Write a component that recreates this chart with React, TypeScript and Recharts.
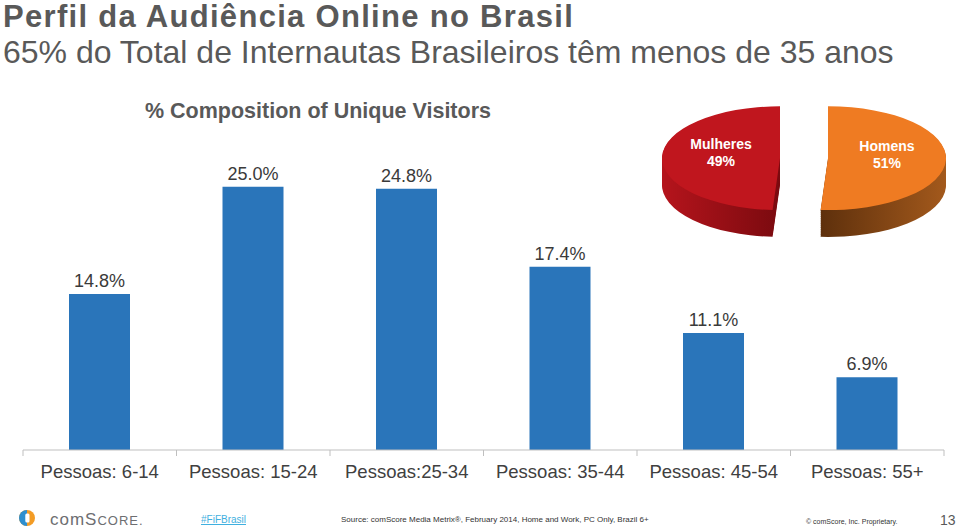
import { Bar, BarChart, Cell, LabelList, Pie, PieChart, XAxis, YAxis } from "recharts";

const categories = ["Pessoas: 6-14", "Pessoas: 15-24", "Pessoas:25-34", "Pessoas: 35-44", "Pessoas: 45-54", "Pessoas: 55+"];
const composition = [14.8, 25.0, 24.8, 17.4, 11.1, 6.9];
const genderNames = ["Homens", "Mulheres"];
const genderShare = [51, 49];

const ageData = categories.map((name, i) => ({ name, value: composition[i] }));
const genderData = genderNames.map((name, i) => ({ name, value: genderShare[i] }));

const FONT = "'Liberation Sans', Arial, sans-serif";
const GREY = "#595959";
const W = 960;
const H = 531;
const BAR_MARGIN = { top: 134, right: 16, left: 23, bottom: 10 };
const BAND = (W - BAR_MARGIN.left - BAR_MARGIN.right) / categories.length;

// pie is drawn round, then squashed vertically to fake the 3d tilt
const SQUASH = 0.44;
const PIE_BOX = { left: 644, top: 101, size: 320 };
const PIE_R = 118;
const PIE_CY = 130;
const sliceCx = [184, 136]; // homens pushed right, mulheres pushed left
const topFill = ["#ef7b22", "#c0161e"];
const sideFill = ["url(#sideHomens)", "url(#sideMulheres)"];
const sideDepths = [61, 56, 51, 46, 41, 36, 31, 26, 21, 16, 11, 6, 2];
const RAD = Math.PI / 180;

function AgeTick(props: any) {
  const { x, y, payload, index } = props;
  const half = BAND / 2;
  return (
    <g>
      <line x1={x - half} x2={x - half} y1={y} y2={y + 6} stroke="#bfbfbf" />
      {index === categories.length - 1 && <line x1={x + half} x2={x + half} y1={y} y2={y + 6} stroke="#bfbfbf" />}
      <text x={x} y={y + 28} textAnchor="middle" fontSize={18.5} fill="#404040" fontFamily={FONT}>
        {payload.value}
      </text>
    </g>
  );
}

function sliceLabel(slice: number) {
  return (p: any) => {
    if (p.index !== slice) return null;
    const x = p.cx + p.outerRadius * 0.5 * Math.cos(-p.midAngle * RAD);
    const y = p.cy + p.outerRadius * 0.5 * Math.sin(-p.midAngle * RAD);
    const d = genderData[slice];
    return (
      <g transform={`translate(${x} ${y}) scale(1 ${1 / SQUASH})`} fontFamily={FONT} fontWeight="bold" fontSize={14} fill="#fff">
        <text textAnchor="middle" y={-8}>{d.name}</text>
        <text textAnchor="middle" y={8.5}>{`${d.value}%`}</text>
      </g>
    );
  };
}

function slicePie(slice: number, cy: number, fill: string, key: string, withLabel: boolean) {
  return (
    <Pie
      key={key}
      data={genderData}
      dataKey="value"
      nameKey="name"
      cx={sliceCx[slice]}
      cy={cy}
      outerRadius={PIE_R}
      startAngle={90}
      endAngle={-270}
      stroke="none"
      isAnimationActive={false}
      label={withLabel ? sliceLabel(slice) : false}
      labelLine={false}
    >
      {genderData.map((g, j) => (
        <Cell key={g.name} fill={j === slice ? fill : "transparent"} />
      ))}
    </Pie>
  );
}

function GenderPie() {
  return (
    <div
      style={{
        position: "absolute",
        left: PIE_BOX.left,
        top: PIE_BOX.top,
        width: PIE_BOX.size,
        height: PIE_BOX.size,
        transform: `scaleY(${SQUASH})`,
        transformOrigin: "0 0",
      }}
    >
      <PieChart width={PIE_BOX.size} height={PIE_BOX.size} margin={{ top: 0, right: 0, bottom: 0, left: 0 }}>
        <defs>
          <linearGradient id="sideMulheres" x1="0" y1="0" x2="1" y2="0">
            <stop offset="0" stopColor="#b5141c" />
            <stop offset="1" stopColor="#7a0a0f" />
          </linearGradient>
          <linearGradient id="sideHomens" x1="0" y1="0" x2="1" y2="0">
            <stop offset="0" stopColor="#5e300c" />
            <stop offset="1" stopColor="#a3591c" />
          </linearGradient>
        </defs>
        {sideDepths.flatMap((d) => [0, 1].map((s) => slicePie(s, PIE_CY + d, sideFill[s], `side-${d}-${s}`, false)))}
        {[0, 1].map((s) => slicePie(s, PIE_CY, topFill[s], `top-${s}`, true))}
      </PieChart>
    </div>
  );
}

function Texts() {
  return (
    <svg width={W} height={H} style={{ position: "absolute", left: 0, top: 0 }} fontFamily={FONT}>
      <text x={3} y={27} fontSize={31} fontWeight="bold" letterSpacing={1.3} fill={GREY}>
        Perfil da Audiência Online no Brasil
      </text>
      <text x={3} y={63} fontSize={32} fill={GREY}>
        65% do Total de Internautas Brasileiros têm menos de 35 anos
      </text>
      <text x={318} y={118} fontSize={21.5} fontWeight="bold" fill={GREY} textAnchor="middle">
        % Composition of Unique Visitors
      </text>

      <circle cx={27} cy={518} r={8} fill="#f39c25" />
      <path d="M27 510 A8 8 0 0 0 27 526 Z" fill="#2e8fcf" />
      <rect x={25.3} y={513.5} width={4.2} height={9} rx={1.5} fill="#fff" />
      <text x={50} y={525} fill="#6d6e71" letterSpacing={1}>
        <tspan fontSize={17}>comS</tspan>
        <tspan fontSize={13}>CORE.</tspan>
      </text>
      <text x={201} y={523} fontSize={10} fill="#3fb0e0" textDecoration="underline">
        #FiFBrasil
      </text>
      <text x={341} y={522} fontSize={8} fill="#333">
        Source: comScore Media Metrix®, February 2014, Home and Work, PC Only, Brazil 6+
      </text>
      <text x={806} y={524} fontSize={7} fill="#333">
        © comScore, Inc. Proprietary.
      </text>
      <text x={940} y={525} fontSize={14} fill={GREY}>
        13
      </text>
    </svg>
  );
}

export default function App() {
  return (
    <div style={{ position: "absolute", left: 0, top: 0, width: W, height: H, background: "#fff", overflow: "hidden" }}>
      <Texts />
      <div style={{ position: "absolute", left: 0, top: 0 }}>
        <BarChart width={W} height={500} data={ageData} margin={BAR_MARGIN}>
          <XAxis
            dataKey="name"
            axisLine={{ stroke: "#bfbfbf" }}
            tickLine={false}
            tickSize={0}
            tickMargin={0}
            height={40}
            interval={0}
            tick={<AgeTick />}
          />
          <YAxis hide domain={[0, 30]} />
          <Bar dataKey="value" fill="#2a75ba" barSize={61} isAnimationActive={false}>
            <LabelList
              dataKey="value"
              position="top"
              offset={7}
              formatter={(v: any) => `${Number(v).toFixed(1)}%`}
              fill="#3a3a3a"
              fontSize={18}
              fontFamily={FONT}
            />
          </Bar>
        </BarChart>
      </div>
      <GenderPie />
    </div>
  );
}
